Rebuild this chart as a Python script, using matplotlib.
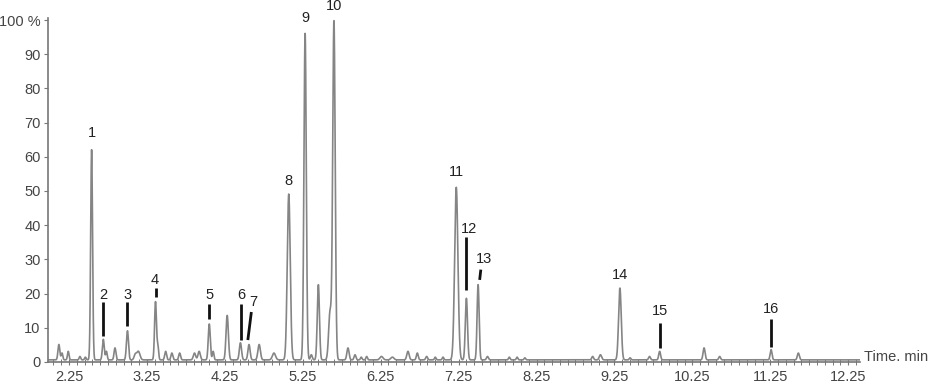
import matplotlib
matplotlib.use("Agg")
import matplotlib.pyplot as plt
import numpy as np

plt.rcParams["font.family"] = ["Liberation Sans", "DejaVu Sans"]

# peak table: retention time (min), height (%), width (min)
peak_times = [2.12, 2.16, 2.24, 2.39, 2.46, 2.54, 2.69, 2.73, 2.84, 3.00,
              3.10, 3.14, 3.36, 3.39, 3.49, 3.57, 3.67, 3.86, 3.92, 4.05,
              4.10, 4.28, 4.45, 4.56, 4.69, 4.88, 5.07, 5.28, 5.36, 5.45,
              5.60, 5.65, 5.83, 5.92, 6.00, 6.07, 6.26, 6.40, 6.60, 6.72,
              6.84, 6.95, 7.05, 7.22, 7.35, 7.50, 7.62, 7.90, 8.00, 8.10,
              8.97, 9.07, 9.32, 9.45, 9.70, 9.83, 10.40, 10.60, 11.26, 11.61]
peak_heights = [4.5, 2.0, 2.5, 1.0, 0.8, 61.5, 6.0, 2.5, 3.5, 8.5,
                1.5, 2.5, 17.0, 4.0, 2.5, 2.0, 2.0, 2.0, 2.5, 10.5,
                2.5, 13.0, 5.0, 4.5, 4.5, 2.0, 48.5, 95.5, 1.5, 22.0,
                14.0, 99.0, 3.5, 1.5, 0.8, 1.0, 1.0, 0.8, 2.5, 2.0,
                1.0, 0.8, 0.8, 50.5, 18.0, 22.0, 1.0, 0.8, 0.8, 0.6,
                1.0, 1.5, 21.0, 0.6, 1.0, 2.5, 3.5, 1.0, 3.0, 2.0]
peak_widths = [0.012, 0.010, 0.010, 0.010, 0.010, 0.012, 0.012, 0.010, 0.012, 0.013,
               0.015, 0.020, 0.012, 0.010, 0.012, 0.012, 0.012, 0.015, 0.015, 0.013,
               0.010, 0.015, 0.014, 0.014, 0.016, 0.020, 0.019, 0.015, 0.012, 0.014,
               0.018, 0.016, 0.014, 0.012, 0.010, 0.010, 0.020, 0.020, 0.015, 0.012,
               0.012, 0.010, 0.010, 0.021, 0.014, 0.013, 0.012, 0.010, 0.010, 0.010,
               0.012, 0.015, 0.017, 0.010, 0.012, 0.012, 0.013, 0.012, 0.012, 0.013]
baseline_level = 0.6

# numbered compounds: label, text position, marker line (x0, y0, x1, y1) or None
labels = ["1", "2", "3", "4", "5", "6", "7", "8",
          "9", "10", "11", "12", "13", "14", "15", "16"]
label_x = [2.54, 2.69, 3.00, 3.35, 4.05, 4.46, 4.62, 5.07,
           5.28, 5.65, 7.22, 7.38, 7.57, 9.32, 9.83, 11.26]
label_y = [67, 19.5, 19.5, 24, 19.5, 19.5, 17.5, 53,
           100.5, 104, 55.5, 39, 30, 25.5, 15, 15.5]
marker_lines = [None, (2.69, 17.5, 2.69, 7.5), (3.00, 17.5, 3.00, 10.5),
                (3.36, 21.5, 3.36, 19.0), (4.05, 17.0, 4.05, 12.5),
                (4.46, 17.0, 4.46, 6.5), (4.59, 14.6, 4.545, 6.4), None,
                None, None, None, (7.35, 36.5, 7.35, 21.0),
                (7.535, 27.0, 7.52, 24.0), None, (9.83, 11.5, 9.83, 4.0),
                (11.26, 12.5, 11.26, 4.5)]

t = np.linspace(1.97, 12.41, 8000)
signal = np.full_like(t, baseline_level)
for t0, h, w in zip(peak_times, peak_heights, peak_widths):
    signal += h * np.exp(-0.5 * ((t - t0) / w) ** 2)

fig = plt.figure(figsize=(9.39, 3.83), dpi=100)
ax = fig.add_axes([0.0506, 0.055, 0.8655, 0.898])
ax.plot(t, signal, color="#858585", linewidth=1.2)

for lab, x, y, seg in zip(labels, label_x, label_y, marker_lines):
    ax.text(x, y, lab, ha="center", va="center", fontsize=10.5,
            color="#222222", clip_on=False)
    if seg is not None:
        ax.plot([seg[0], seg[2]], [seg[1], seg[3]], color="#111111",
                linewidth=2.0, solid_capstyle="butt")

ax.set_xlim(1.974, 12.404)
ax.set_ylim(0, 100.6)

ax.set_xticks(np.arange(2.25, 12.26, 1.0))
ax.set_xticklabels([f"{v:.2f}" for v in np.arange(2.25, 12.26, 1.0)])
ax.set_xticks(np.arange(2.05, 12.4, 0.1), minor=True)
ax.set_yticks(np.arange(0, 101, 10))
ax.set_yticklabels([str(v) for v in range(0, 100, 10)] + ["100 %"])

for side in ["top", "right"]:
    ax.spines[side].set_visible(False)
for side in ["left", "bottom"]:
    ax.spines[side].set_color("#777777")
    ax.spines[side].set_linewidth(1.2)

ax.tick_params(axis="y", direction="out", length=3, width=0.8,
               color="#777777", labelsize=10.5, labelcolor="#444444", pad=2)
ax.tick_params(axis="x", which="major", direction="inout", length=5, width=0.8,
               color="#777777", labelsize=10.5, labelcolor="#444444", pad=3)
ax.tick_params(axis="x", which="minor", direction="inout", length=4, width=0.7,
               color="#777777")

ax.text(1.005, 0.014, "Time. min", transform=ax.transAxes, ha="left",
        va="center", fontsize=10.5, color="#444444")

plt.savefig("out.png", dpi=100)
